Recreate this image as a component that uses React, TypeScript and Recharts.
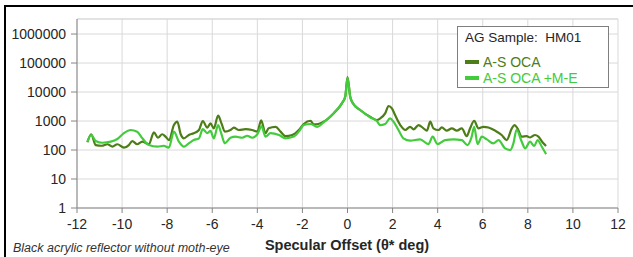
import { LineChart, Line, XAxis, YAxis, CartesianGrid, ReferenceLine } from "recharts";

// A-S OCA (dark green)
const xOca = [
  -11.54, -11.37, -11.17, -10.9, -10.65, -10.43, -10.21, -9.92, -9.7, -9.55, -9.33, -9.1,
  -8.81, -8.59, -8.41, -8.22, -8.07, -7.92, -7.7, -7.55, -7.4, -7.26, -7.04, -6.82, -6.59,
  -6.42, -6.22, -6.08, -5.93, -5.74, -5.59, -5.44, -5.19, -5.04, -4.82, -4.52, -4.23, -4.0,
  -3.83, -3.64, -3.5, -3.19, -2.97, -2.75, -2.45, -2.16, -1.94, -1.64, -1.5, -1.3, -1.06,
  -0.62, -0.25, -0.1, 0, 0.12, 0.24, 0.56, 1.0, 1.3, 1.45, 1.67, 1.82, 1.97, 2.11, 2.34,
  2.56, 2.78, 2.93, 3.15, 3.37, 3.52, 3.67, 3.81, 4.04, 4.18, 4.4, 4.63, 4.85, 5.07, 5.29,
  5.44, 5.62, 5.81, 6.03, 6.25, 6.55, 6.84, 7.06, 7.29, 7.41, 7.54, 7.73, 7.95, 8.1, 8.32,
  8.47, 8.69, 8.81,
];
const yOca = [
  185, 350, 148, 140, 158, 130, 158, 120, 148, 204, 158, 194,
  158, 405, 265, 350, 288, 220, 725, 950, 350, 253, 330, 380, 490,
  1000, 590, 830, 560, 1550, 830, 430, 490, 590, 490, 525, 490, 430,
  1050, 380, 560, 630, 430, 300, 330, 490, 790, 1020, 760, 790, 950,
  1830, 4070, 6900, 33000, 6900, 4070, 2400, 1410, 1080, 1230, 1830, 3300, 2750, 1600, 725,
  490, 630, 515, 725, 560, 465, 950, 560, 490, 600, 465, 560, 465, 560, 300,
  560, 1020, 560, 630, 600, 465, 330, 220, 560, 725, 560, 288, 300, 270, 330,
  288, 170, 138,
];

// A-S OCA +M-E (bright green)
const xMe = [
  -11.54, -11.37, -11.17, -10.88, -10.5, -10.21, -9.92, -9.62, -9.33, -9.1, -8.81, -8.44,
  -8.15, -7.93, -7.7, -7.48, -7.26, -7.04, -6.82, -6.59, -6.42, -6.22, -6.08, -5.93, -5.74,
  -5.59, -5.44, -5.19, -4.97, -4.67, -4.45, -4.23, -4.0, -3.81, -3.64, -3.42, -3.04, -2.75,
  -2.38, -2.16, -1.94, -1.64, -1.35, -1.06, -0.62, -0.25, -0.1, 0, 0.12, 0.24, 0.56, 1.0,
  1.3, 1.45, 1.67, 1.89, 2.04, 2.26, 2.48, 2.78, 3.22, 3.59, 3.78, 3.99, 4.33, 4.7, 5.07,
  5.32, 5.51, 5.62, 5.77, 5.96, 6.18, 6.47, 6.7, 6.99, 7.22, 7.36, 7.5, 7.73, 7.88, 8.1,
  8.28, 8.43, 8.62, 8.81,
];
const yMe = [
  190, 330, 204, 178, 194, 240, 380, 490, 430, 253, 148, 130,
  140, 120, 430, 194, 130, 170, 220, 253, 525, 380, 455, 253, 725,
  350, 170, 265, 288, 265, 310, 265, 350, 650, 288, 380, 330, 253,
  290, 430, 725, 790, 630, 900, 1830, 4070, 6900, 30000, 6900, 4070, 2400, 1350,
  1000, 725, 790, 1230, 950, 490, 253, 210, 233, 160, 288, 160, 220, 233, 220,
  148, 288, 630, 160, 288, 233, 170, 220, 114, 100, 170, 500, 194, 114, 194,
  138, 220, 130, 72,
];

const xTicks = [-12, -10, -8, -6, -4, -2, 0, 2, 4, 6, 8, 10, 12];
const yTicks = [1, 10, 100, 1000, 10000, 100000, 1000000];

const series = [
  { name: "A-S OCA", color: "#4d7d17", xs: xOca, ys: yOca },
  { name: "A-S OCA +M-E", color: "#42cc3c", xs: xMe, ys: yMe },
];

const font = "'Liberation Sans', Arial, sans-serif";
const yMax = 3300000;

export default function App() {
  return (
    <div
      style={{
        position: "absolute",
        left: 0,
        top: 0,
        width: 633,
        height: 257,
        overflow: "hidden",
        background: "#fff",
        fontFamily: font,
      }}
    >
      <div
        style={{
          position: "absolute",
          left: 4,
          top: 5,
          width: 640,
          height: 260,
          borderTop: "2px solid #000",
          borderLeft: "2px solid #000",
        }}
      />
      <LineChart
        width={633}
        height={257}
        margin={{ top: 19, right: 15, left: 0, bottom: 0 }}
        style={{ position: "absolute", left: 0, top: 0 }}
      >
        <CartesianGrid stroke="#d9d9d9" strokeWidth={1} />
        <ReferenceLine y={yMax} stroke="#d9d9d9" />
        <XAxis
          type="number"
          dataKey="x"
          domain={[-12, 12]}
          ticks={xTicks}
          height={49}
          stroke="#868686"
          tickSize={5}
          tickMargin={6}
          tick={{ fill: "#262626", fontSize: 14, fontFamily: font }}
          allowDataOverflow
        />
        <YAxis
          type="number"
          scale="log"
          domain={[1, yMax]}
          ticks={yTicks}
          width={77}
          stroke="#868686"
          tickSize={6}
          tickMargin={5}
          tick={{ fill: "#262626", fontSize: 14, fontFamily: font }}
          tickFormatter={(v: number) => String(v)}
          allowDataOverflow
        />
        {series.map((s) => (
          <Line
            key={s.name}
            name={s.name}
            data={s.xs.map((x, i) => ({ x, v: s.ys[i] }))}
            dataKey="v"
            type="monotone"
            stroke={s.color}
            strokeWidth={2.2}
            dot={false}
            isAnimationActive={false}
          />
        ))}
      </LineChart>

      <div
        style={{
          position: "absolute",
          left: 457,
          top: 26,
          width: 150,
          height: 60,
          border: "1.5px solid #7f7f7f",
          background: "#fff",
        }}
      >
        <div
          style={{
            position: "absolute",
            left: 7,
            top: 3,
            fontSize: 13.5,
            color: "#262626",
            whiteSpace: "pre",
          }}
        >
          {"AG Sample:  HM01"}
        </div>
        {series.map((s, i) => (
          <div
            key={s.name}
            style={{
              position: "absolute",
              left: 7,
              top: 27 + i * 16,
              height: 16,
              display: "flex",
              alignItems: "center",
              whiteSpace: "pre",
              fontSize: 14,
              color: s.color,
            }}
          >
            <span
              style={{
                display: "inline-block",
                width: 14,
                height: 4,
                background: s.color,
                marginRight: 4,
              }}
            />
            {s.name}
          </div>
        ))}
      </div>

      <div
        style={{
          position: "absolute",
          left: 347,
          top: 237,
          transform: "translateX(-50%)",
          fontSize: 14.5,
          fontWeight: "bold",
          color: "#262626",
          whiteSpace: "pre",
        }}
      >
        Specular Offset (θ* deg)
      </div>
      <div
        style={{
          position: "absolute",
          left: 13,
          top: 241,
          fontSize: 12.5,
          fontStyle: "italic",
          color: "#333",
          whiteSpace: "pre",
        }}
      >
        Black acrylic reflector without moth-eye
      </div>
    </div>
  );
}
